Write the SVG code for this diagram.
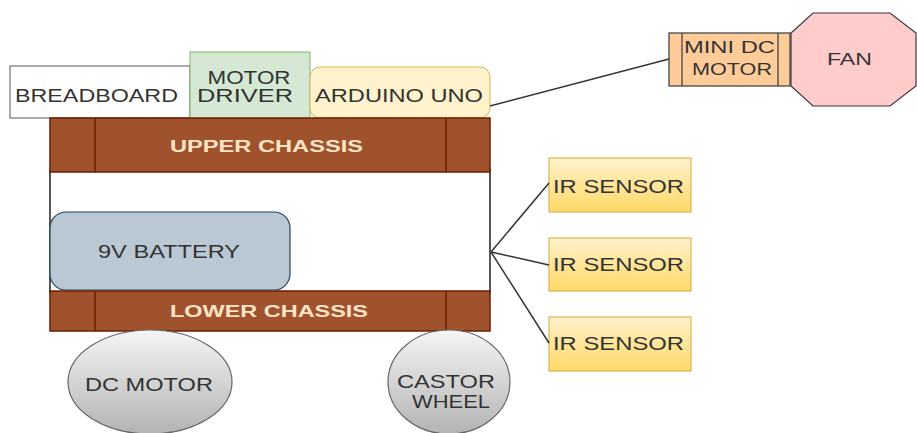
<svg xmlns="http://www.w3.org/2000/svg" width="917" height="433" viewBox="0 0 917 433">
<defs>
<linearGradient id="gy" x1="0" y1="0" x2="0" y2="1"><stop offset="0" stop-color="#fff2cc"/><stop offset="1" stop-color="#ffd966"/></linearGradient>
<linearGradient id="gg" x1="0" y1="0" x2="0" y2="1"><stop offset="0" stop-color="#f5f5f5"/><stop offset="1" stop-color="#b3b3b3"/></linearGradient>
<style>
text{font-family:"Liberation Sans",Arial,sans-serif;fill:#333;text-anchor:middle}
.ch{fill:#a0522d;stroke:#6d1f00;stroke-width:1.5}
.cht{fill:#fbe5c8;font-weight:bold;font-size:16px}
.ir{fill:url(#gy);stroke:#d6b656;stroke-width:1.2}
.wh{fill:url(#gg);stroke:#666;stroke-width:1.2}
.con{stroke:#333;stroke-width:1.5;fill:none}
</style>
</defs>
<rect width="917" height="433" fill="#fff"/>
<g id="frame"><rect x="50" y="170" width="440" height="123" fill="#fff" stroke="#222" stroke-width="1.5"/></g>
<g id="breadboard"><rect x="10" y="66" width="180" height="52" fill="#fff" stroke="#555" stroke-width="1"/><text x="96.5" y="102" font-size="19" textLength="163" lengthAdjust="spacingAndGlyphs">BREADBOARD</text></g>
<g id="motor-driver"><rect x="190" y="52" width="120" height="67" fill="#d5e8d4" stroke="#82b366" stroke-width="1"/><text x="249" y="84" font-size="18" textLength="83" lengthAdjust="spacingAndGlyphs">MOTOR</text><text x="245" y="102" font-size="18" textLength="96" lengthAdjust="spacingAndGlyphs">DRIVER</text></g>
<g id="arduino"><rect x="310" y="67" width="180" height="51" rx="10" fill="#fff2cc" stroke="#d6b656" stroke-width="1"/><text x="399" y="102" font-size="19" textLength="168" lengthAdjust="spacingAndGlyphs">ARDUINO UNO</text></g>
<g id="upper-chassis"><rect class="ch" x="50" y="118" width="440" height="54"/><line x1="95" y1="118" x2="95" y2="172" stroke="#6d1f00" stroke-width="1.5"/><line x1="446" y1="118" x2="446" y2="172" stroke="#6d1f00" stroke-width="1.5"/><text class="cht" x="266.5" y="152" textLength="193" lengthAdjust="spacingAndGlyphs">UPPER CHASSIS</text></g>
<g id="battery"><rect x="50" y="212" width="240" height="78" rx="16" fill="#bac8d3" stroke="#23445d" stroke-width="1.2"/><text x="169" y="258" font-size="18" textLength="142" lengthAdjust="spacingAndGlyphs">9V BATTERY</text></g>
<g id="lower-chassis"><rect class="ch" x="50" y="291" width="440" height="40"/><line x1="95" y1="291" x2="95" y2="331" stroke="#6d1f00" stroke-width="1.5"/><line x1="446" y1="291" x2="446" y2="331" stroke="#6d1f00" stroke-width="1.5"/><text class="cht" x="269" y="317" textLength="198" lengthAdjust="spacingAndGlyphs">LOWER CHASSIS</text></g>
<g id="dc-motor"><ellipse class="wh" cx="150" cy="382" rx="82" ry="52"/><text x="149" y="391" font-size="18" textLength="128" lengthAdjust="spacingAndGlyphs">DC MOTOR</text></g>
<g id="castor-wheel"><ellipse class="wh" cx="449" cy="382" rx="61" ry="52"/><text x="446" y="388" font-size="18" textLength="98" lengthAdjust="spacingAndGlyphs">CASTOR</text><text x="451" y="408" font-size="18" textLength="78" lengthAdjust="spacingAndGlyphs">WHEEL</text></g>
<g id="mini-dc-motor"><rect x="669" y="33" width="121" height="53" fill="#ffcc99" stroke="#36393d" stroke-width="1.2"/><line x1="682" y1="33" x2="682" y2="86" stroke="#36393d" stroke-width="1.2"/><line x1="778" y1="33" x2="778" y2="86" stroke="#36393d" stroke-width="1.2"/><text x="729.5" y="53" font-size="16" textLength="91" lengthAdjust="spacingAndGlyphs">MINI DC</text><text x="732" y="75" font-size="16" textLength="80" lengthAdjust="spacingAndGlyphs">MOTOR</text></g>
<g id="fan"><polygon points="813,13 890,13 916,33 916,86 890,106 813,106 791,86 791,33" fill="#ffcccc" stroke="#36393d" stroke-width="1.2"/><text x="849.5" y="65" font-size="16" textLength="45" lengthAdjust="spacingAndGlyphs">FAN</text></g>
<g id="ir-sensor-1"><rect class="ir" x="549" y="158" width="142" height="54"/><text x="618.5" y="193" font-size="18" textLength="131" lengthAdjust="spacingAndGlyphs">IR SENSOR</text></g>
<g id="ir-sensor-2"><rect class="ir" x="549" y="238" width="142" height="53"/><text x="618.5" y="271" font-size="18" textLength="131" lengthAdjust="spacingAndGlyphs">IR SENSOR</text></g>
<g id="ir-sensor-3"><rect class="ir" x="549" y="317" width="142" height="54"/><text x="618.5" y="350" font-size="18" textLength="131" lengthAdjust="spacingAndGlyphs">IR SENSOR</text></g>
<g id="connectors">
<line class="con" x1="490" y1="106" x2="669" y2="59"/>
<line class="con" x1="491" y1="252" x2="549" y2="183"/>
<line class="con" x1="491" y1="252" x2="549" y2="265"/>
<line class="con" x1="491" y1="252" x2="549" y2="343"/>
</g>
</svg>
